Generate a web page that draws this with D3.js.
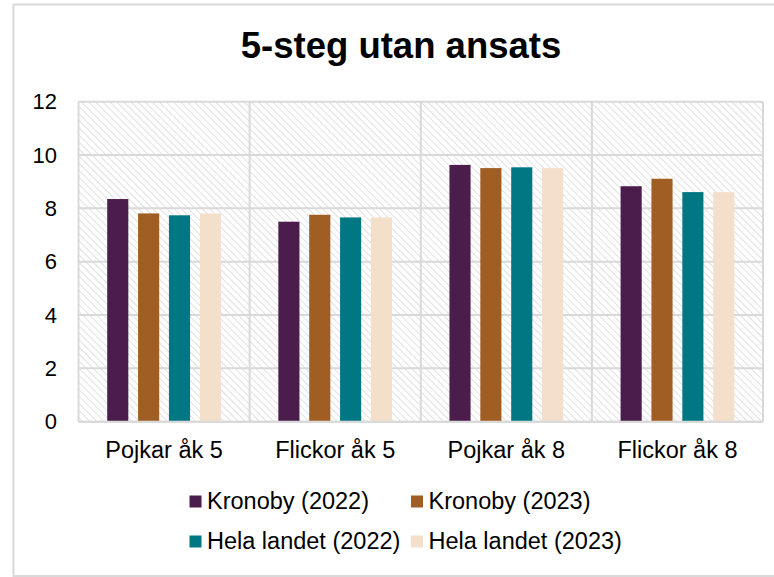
<!DOCTYPE html>
<html>
<head>
<meta charset="utf-8">
<script src="https://cdn.jsdelivr.net/npm/d3@7"></script>
<style>
  html, body { margin: 0; padding: 0; background: #fff; }
  svg { display: block; font-family: "Liberation Sans", Arial, sans-serif; }
</style>
</head>
<body>
<svg id="chart" width="774" height="577"></svg>
<script>
const categories = ["Pojkar åk 5", "Flickor åk 5", "Pojkar åk 8", "Flickor åk 8"];
const seriesNames = ["Kronoby (2022)", "Kronoby (2023)", "Hela landet (2022)", "Hela landet (2023)"];
const kronoby2022 = [8.35, 7.5, 9.63, 8.83];
const kronoby2023 = [7.81, 7.76, 9.51, 9.11];
const helaLandet2022 = [7.74, 7.66, 9.54, 8.61];
const helaLandet2023 = [7.81, 7.66, 9.51, 8.61];
const seriesValues = [kronoby2022, kronoby2023, helaLandet2022, helaLandet2023];
const colors = ["#4a1d4c", "#a05e22", "#017784", "#f4dfcb"];
const yTicks = [0, 2, 4, 6, 8, 10, 12];
const title = "5-steg utan ansats";

const svg = d3.select("#chart");

// outer border
svg.append("rect").attr("x", 13.5).attr("y", 4.5).attr("width", 780).attr("height", 571.5)
  .attr("fill", "#fff").attr("stroke", "#d9d9d9").attr("stroke-width", 2);

// hatch pattern
const defs = svg.append("defs");
const pat = defs.append("pattern").attr("id", "hatch").attr("patternUnits", "userSpaceOnUse")
  .attr("width", 5).attr("height", 5).attr("patternTransform", "rotate(-45)");
pat.append("rect").attr("width", 5).attr("height", 5).attr("fill", "#fff");
pat.append("line").attr("x1", 0).attr("y1", 0).attr("x2", 0).attr("y2", 5)
  .attr("stroke", "#dadada").attr("stroke-width", 1.6);

const pLeft = 78.5, pRight = 763, pTop = 101.7, pBottom = 421.7;

const x = d3.scaleBand().domain(categories).range([pLeft, pRight]).paddingInner(0).paddingOuter(0);
const xi = d3.scaleBand().domain(d3.range(seriesNames.length)).range([0, x.bandwidth()])
  .paddingInner(0.316).paddingOuter(0.93);
const y = d3.scaleLinear().domain([0, 12]).range([pBottom, pTop]);

// plot background
svg.append("rect").attr("x", pLeft).attr("y", pTop).attr("width", pRight - pLeft).attr("height", pBottom - pTop)
  .attr("fill", "url(#hatch)");

// horizontal gridlines
svg.append("g").selectAll("line").data(yTicks).join("line")
  .attr("x1", pLeft).attr("x2", pRight)
  .attr("y1", d => y(d)).attr("y2", d => y(d))
  .attr("stroke", "#d9d9d9").attr("stroke-width", 2);

// vertical gridlines at category boundaries
const bounds = categories.map(c => x(c)).concat([x(categories[categories.length - 1]) + x.bandwidth()]);
svg.append("g").selectAll("line").data(bounds).join("line")
  .attr("x1", d => d).attr("x2", d => d)
  .attr("y1", pTop).attr("y2", pBottom)
  .attr("stroke", "#d9d9d9").attr("stroke-width", 2);

// bars
const groups = svg.append("g").selectAll("g").data(seriesValues).join("g")
  .attr("fill", (d, i) => colors[i]);
groups.each(function (vals, si) {
  d3.select(this).selectAll("rect").data(vals).join("rect")
    .attr("x", (v, ci) => x(categories[ci]) + xi(si))
    .attr("width", xi.bandwidth())
    .attr("y", v => y(v))
    .attr("height", v => y(0) - y(v));
});

// bottom axis line
svg.append("line").attr("x1", pLeft).attr("x2", pRight).attr("y1", pBottom).attr("y2", pBottom)
  .attr("stroke", "#d9d9d9").attr("stroke-width", 2);

// y axis labels
const yAxis = d3.axisLeft(y).tickValues(yTicks).tickSize(0).tickPadding(0);
const yg = svg.append("g").attr("transform", `translate(57,0)`).call(yAxis);
yg.select(".domain").remove();
yg.selectAll("text").attr("font-size", 22).attr("fill", "#000").attr("font-family", "Liberation Sans, Arial, sans-serif");

// x axis labels
const xAxis = d3.axisBottom(x).tickSize(0).tickPadding(0);
const xg = svg.append("g").attr("transform", `translate(0,${pBottom})`).call(xAxis);
xg.select(".domain").remove();
xg.selectAll("text").attr("font-size", 23.5).attr("fill", "#000").attr("dy", null)
  .attr("y", 36).attr("font-family", "Liberation Sans, Arial, sans-serif");

// title
svg.append("text").attr("x", 401).attr("y", 58).attr("text-anchor", "middle")
  .attr("font-size", 36.5).attr("font-weight", "bold").attr("fill", "#000").text(title);

// legend
const legPos = [[189.5, 509], [411, 509], [189.5, 549], [411, 549]];
const leg = svg.append("g").selectAll("g").data(seriesNames).join("g")
  .attr("transform", (d, i) => `translate(${legPos[i][0]},${legPos[i][1]})`);
leg.append("rect").attr("x", 0).attr("y", -13.5).attr("width", 12).attr("height", 12)
  .attr("fill", (d, i) => colors[i]);
leg.append("text").attr("x", 17.5).attr("y", 0).attr("font-size", 23.5).attr("fill", "#000").text(d => d);
</script>
</body>
</html>
